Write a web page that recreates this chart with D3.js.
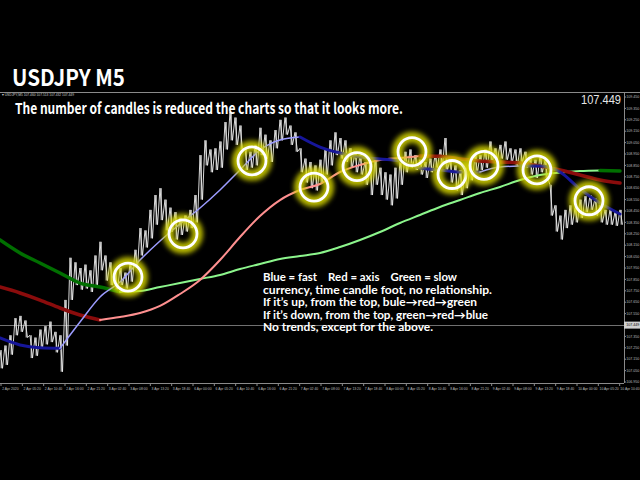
<!DOCTYPE html>
<html><head><meta charset="utf-8">
<script src="https://cdn.jsdelivr.net/npm/d3@7/dist/d3.min.js"></script>
<style>html,body{margin:0;padding:0;background:#000;} svg{display:block;}</style>
</head><body><svg id="c" width="640" height="480"></svg>
<script>
const title = "USDJPY M5";
const subtitle = "The number of candles is reduced the charts so that it looks more.";
const symbolInfo = "▾ USDJPY,M5  107.460 107.513 107.432 107.449";
const lastPrice = 107.449;
const priceStep = 15;
const priceHigh = [
107.23,107.27,107.36,107.51,107.53,107.49,107.36,107.34,107.41,107.44,
107.48,107.39,107.36,107.67,108.04,108.00,107.95,107.98,107.93,108.06,
108.18,108.06,108.00,107.93,107.95,107.91,108.00,108.11,108.30,108.28,
108.46,108.59,108.65,108.55,108.48,108.44,108.39,108.41,108.46,108.59,
108.94,109.07,108.99,109.00,109.06,109.23,109.32,109.27,109.20,109.00,
108.97,109.03,109.18,109.12,109.07,109.16,109.25,109.27,109.20,109.14,
109.00,108.91,108.88,108.85,108.90,108.99,109.07,109.14,109.09,109.07,
109.00,108.97,108.94,108.88,108.85,108.91,108.83,108.79,108.77,108.83,
108.90,108.97,108.99,108.94,108.90,108.88,108.91,108.94,108.99,109.09,
108.90,108.85,108.81,108.83,108.88,108.94,108.94,108.99,109.06,109.00,
109.03,109.06,109.00,108.99,109.00,108.97,108.91,108.90,108.94,108.90,
108.68,108.50,108.41,108.46,108.50,108.48,108.55,108.58,108.59,108.56,
108.50,108.46,108.46,108.44,108.46];
const priceLow = [
107.07,107.10,107.19,107.36,107.39,107.34,107.16,107.18,107.25,107.28,
107.30,107.21,107.04,107.27,107.67,107.80,107.76,107.77,107.74,107.80,
107.93,107.84,107.80,107.76,107.80,107.77,107.83,107.95,108.06,108.13,
108.21,108.33,108.37,108.28,108.27,108.20,108.24,108.27,108.30,108.35,
108.55,108.85,108.79,108.81,108.83,108.99,109.07,109.03,108.99,108.81,
108.83,108.85,108.94,108.91,108.88,109.00,109.07,109.12,109.03,108.97,
108.79,108.70,108.65,108.63,108.70,108.77,108.85,108.94,108.91,108.88,
108.83,108.79,108.77,108.68,108.59,108.68,108.59,108.55,108.50,108.56,
108.68,108.79,108.83,108.81,108.77,108.74,108.79,108.83,108.85,108.81,
108.70,108.63,108.59,108.65,108.72,108.79,108.81,108.83,108.88,108.90,
108.91,108.90,108.88,108.85,108.88,108.83,108.77,108.74,108.79,108.74,
108.41,108.27,108.20,108.30,108.33,108.35,108.39,108.44,108.46,108.41,
108.35,108.33,108.33,108.32,108.33];
const maStep = 60;
const maFast = [107.336,107.275,107.25,107.245,107.476,107.696,107.827,108.020,108.187,108.336,108.476,108.634,108.810,108.985,109.073,109.099,109.011,108.959,108.924,108.906,108.889,108.827,108.810,108.792,108.792,108.836,108.845,108.845,108.792,108.643,108.520,108.424];
const maAxis = [107.783,107.731,107.669,107.599,107.538,107.494,107.520,107.555,107.617,107.722,107.845,108.020,108.222,108.406,108.546,108.634,108.687,108.792,108.854,108.897,108.915,108.932,108.930,108.906,108.889,108.880,108.871,108.845,108.810,108.766,108.722,108.696];
const maSlow = [108.196,108.082,107.994,107.906,107.818,107.783,107.742,107.748,107.783,107.818,107.854,107.889,107.941,107.985,108.029,108.055,108.082,108.134,108.196,108.266,108.345,108.415,108.485,108.546,108.608,108.661,108.722,108.766,108.788,108.801,108.806,108.801];
const labelStep = 64;
const timeLabels = ["2 Apr 2020","2 Apr 05:20","2 Apr 10:40","2 Apr 16:00","2 Apr 21:20","3 Apr 02:40","3 Apr 08:00","3 Apr 13:20","3 Apr 18:40","6 Apr 00:00","6 Apr 05:20","6 Apr 10:40","6 Apr 16:00","6 Apr 21:20","7 Apr 02:40","7 Apr 08:00","7 Apr 13:20","7 Apr 18:40","8 Apr 00:00","8 Apr 05:20","8 Apr 10:40","8 Apr 16:00","8 Apr 21:20","9 Apr 02:40","9 Apr 08:00","9 Apr 13:20","9 Apr 18:40","10 Apr 00:00","10 Apr 05:20","10 Apr 10:40"];
const priceTicks = [106.95,107.05,107.15,107.25,107.35,107.45,107.55,107.65,107.75,107.85,107.95,108.05,108.15,108.25,108.35,108.45,108.55,108.65,108.75,108.85,108.95,109.05,109.15,109.25,109.35,109.45];
const circleIdx = [384,549,756,942,1071,1236,1356,1452,1611,1767];
const circlePrice = [107.87,108.25,108.89,108.66,108.84,108.97,108.77,108.85,108.81,108.54];
const legendLines = ["Blue = fast    Red = axis    Green = slow","currency, time candle foot, no relationship.","If it’s up, from the top, bule→red→green","If it’s down, from the top, green→red→blue","No trends, except for the above."];
const legendWidths = [194,229,214,225,170];

const svg = d3.select("#c");
const W = 640, H = 480, chartR = 624, chartT = 92, chartB = 383;
const x = d3.scaleLinear().domain([0, 1872]).range([0, 624]);
const y = d3.scaleLinear().domain([106.95, 109.45]).range([382, 97]);
const font = "'Noto Sans CJK JP','Noto Sans',sans-serif";
const lfont = "Lato,'Noto Sans',sans-serif";
const afont = "'Liberation Sans',sans-serif";

const defs = svg.append("defs");
defs.append("clipPath").attr("id","clip").append("rect").attr("x",0).attr("y",chartT).attr("width",chartR).attr("height",chartB-chartT);
const glow = defs.append("filter").attr("id","glow").attr("x","-60%").attr("y","-60%").attr("width","220%").attr("height","220%");
glow.append("feGaussianBlur").attr("stdDeviation",2.4);

svg.append("rect").attr("width",W).attr("height",H).attr("fill","#000");

// header
svg.append("text").attr("x",12).attr("y",86).attr("fill","#fff").attr("font-family",font).attr("font-weight","bold").attr("font-size",23).attr("textLength",113).attr("lengthAdjust","spacingAndGlyphs").text(title);

// frame
svg.append("line").attr("x1",0).attr("x2",W).attr("y1",chartT+0.5).attr("y2",chartT+0.5).attr("stroke","#8a8a8a");
svg.append("line").attr("x1",chartR+0.5).attr("x2",chartR+0.5).attr("y1",chartT).attr("y2",chartB).attr("stroke","#8a8a8a");
svg.append("line").attr("x1",0).attr("x2",chartR).attr("y1",chartB+0.5).attr("y2",chartB+0.5).attr("stroke","#8a8a8a");

const g = svg.append("g").attr("clip-path","url(#clip)");

// last price line
g.append("line").attr("x1",0).attr("x2",chartR).attr("y1",Math.round(y(lastPrice))+0.5).attr("y2",Math.round(y(lastPrice))+0.5).attr("stroke","#707070");

// price scribble
const pts = [];
priceHigh.forEach((h,i)=>{ const xi = x(i*priceStep); pts.push([xi, y(h)]); pts.push([xi+2.5, y(priceLow[i])]); });
g.append("path").attr("d", d3.line()(pts)).attr("fill","none").attr("stroke","#f2f2f2").attr("stroke-width",0.9);
g.selectAll("line.bar").data(priceHigh).join("line").attr("class","bar")
  .attr("x1",(d,i)=>x(i*priceStep)+1.2).attr("x2",(d,i)=>x(i*priceStep)+1.2)
  .attr("y1",d=>y(d)).attr("y2",(d,i)=>y(priceLow[i])).attr("stroke","#e6e6e6").attr("stroke-width",1);

// moving averages coloured by slope
function drawMA(vals, dark, light, dw, lw){
  const p = vals.map((v,i)=>[x(i*maStep), y(v)]);
  const runs = [];
  let cur = [p[0]], curUp = vals[1] > vals[0];
  for(let i=1;i<vals.length;i++){
    const up = vals[i] > vals[i-1];
    if(up !== curUp){ runs.push({up:curUp, pts:cur}); cur=[p[i-1]]; curUp=up; }
    cur.push(p[i]);
  }
  runs.push({up:curUp, pts:cur});
  const ln = d3.line().curve(d3.curveMonotoneX);
  runs.forEach(r=>{
    g.append("path").attr("d", ln(r.pts)).attr("fill","none")
      .attr("stroke", r.up ? light : dark).attr("stroke-width", r.up ? lw : dw)
      .attr("stroke-linecap","round");
  });
}
drawMA(maSlow, "#006f00", "#8cf58c", 3.5, 2);
drawMA(maAxis, "#8a0c0c", "#ff9090", 3.5, 2);
drawMA(maFast, "#16169a", "#9c9cff", 3, 1.5);

// circles
const cg = svg.append("g");
circleIdx.forEach((ci,i)=>{
  const cx = x(ci), cy = y(circlePrice[i]);
  cg.append("circle").attr("cx",cx).attr("cy",cy).attr("r",14.5).attr("fill","none").attr("stroke","#d8d800").attr("stroke-width",11).attr("opacity",0.85).attr("filter","url(#glow)");
  cg.append("circle").attr("cx",cx).attr("cy",cy).attr("r",14).attr("fill","none").attr("stroke","#fff").attr("stroke-width",2.8);
});

// subtitle
svg.append("text").attr("x",15).attr("y",114).attr("fill","#fff").attr("font-family",font).attr("font-weight","bold").attr("font-size",15).attr("textLength",388).attr("lengthAdjust","spacingAndGlyphs").text(subtitle);

// symbol info
svg.append("text").attr("x",2).attr("y",96).attr("fill","#cfcfcf").attr("font-family",afont).attr("font-size",3.6).attr("textLength",72).attr("lengthAdjust","spacingAndGlyphs").text(symbolInfo);

// big last price
svg.append("text").attr("x",621).attr("y",103.5).attr("text-anchor","end").attr("fill","#e6e6e6").attr("font-family",afont).attr("font-size",13).attr("textLength",40).attr("lengthAdjust","spacingAndGlyphs").text(d3.format(".3f")(lastPrice));

// legend text
legendLines.forEach((t,i)=>{
  svg.append("text").attr("x",263).attr("y",281+i*12.6).attr("fill","#fff").attr("font-family",lfont).attr("font-weight","bold").attr("font-size",10.5)
    .attr("xml:space","preserve").style("white-space","pre").attr("textLength",legendWidths[i]).attr("lengthAdjust","spacingAndGlyphs").text(t);
});

// y axis
const ya = svg.append("g");
priceTicks.forEach(p=>{
  const yy = y(p);
  ya.append("line").attr("x1",chartR).attr("x2",chartR+2).attr("y1",yy).attr("y2",yy).attr("stroke","#8a8a8a");
  ya.append("text").attr("x",626.3).attr("y",yy+1.2).attr("fill","#bdbdbd").attr("font-family",afont).attr("font-size",3.6).text(d3.format(".3f")(p));
});
const ly = y(lastPrice);
svg.append("rect").attr("x",chartR).attr("y",ly-3.5).attr("width",16).attr("height",7).attr("fill","#d0d0d0");
svg.append("text").attr("x",626.3).attr("y",ly+1.2).attr("fill","#000").attr("font-family",afont).attr("font-size",3.6).text(d3.format(".3f")(lastPrice));

// x axis
const lastX = 639.6;
timeLabels.forEach((t,k)=>{
  const xx = x(k*labelStep)+1;
  const isLast = k === timeLabels.length-1;
  svg.append("line").attr("x1",xx).attr("x2",xx).attr("y1",chartB).attr("y2",chartB+3).attr("stroke","#8a8a8a");
  svg.append("text").attr("x", isLast ? lastX : xx+1.2).attr("text-anchor", isLast ? "end" : "start")
    .attr("y",chartB+6.5).attr("fill","#bdbdbd").attr("font-family",afont).attr("font-size",3.4).text(t);
});
</script></body></html>
